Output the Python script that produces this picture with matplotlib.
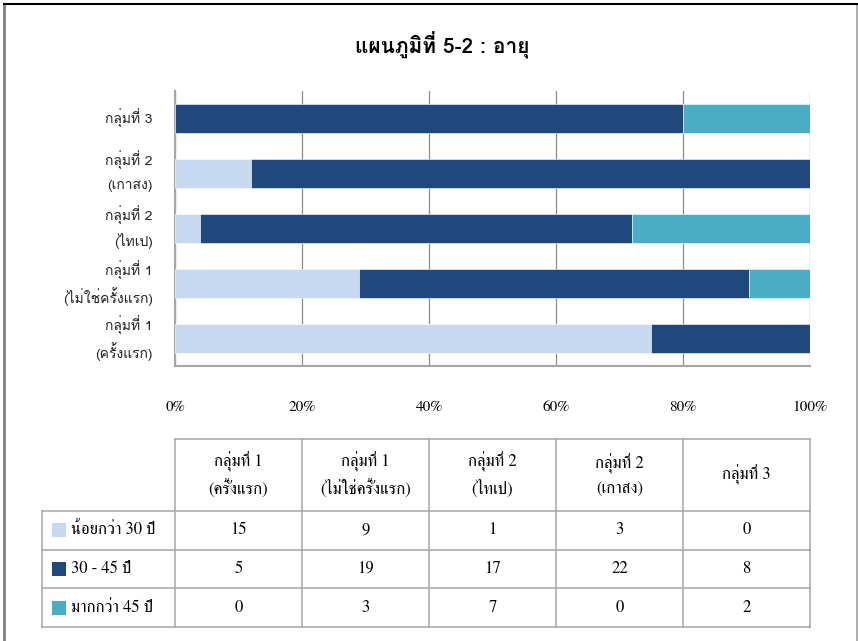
import matplotlib
matplotlib.use("Agg")
import matplotlib.pyplot as plt
from matplotlib import font_manager as fm
from matplotlib.patches import Rectangle
from matplotlib.lines import Line2D
import numpy as np

# ---------------- data ----------------
title = "แผนภูมิที่ 5-2 : อายุ"
groups = ["กลุ่มที่ 1\n(ครั้งแรก)", "กลุ่มที่ 1\n(ไม่ใช่ครั้งแรก)", "กลุ่มที่ 2\n(ไทเป)",
          "กลุ่มที่ 2\n(เกาสง)", "กลุ่มที่ 3"]
series_names = ["น้อยกว่า 30 ปี", "30 - 45 ปี", "มากกว่า 45 ปี"]
under30 = [15, 9, 1, 3, 0]
age30_45 = [5, 19, 17, 22, 8]
over45 = [0, 3, 7, 0, 2]
colors = ["#C6D9F1", "#1F497D", "#4BACC6"]
xticks = [0, 20, 40, 60, 80, 100]

# ---------------- fonts ----------------
def thai_fonts():
    out = []
    try:
        from fontTools.ttLib import TTFont
    except Exception:
        return out
    seen = set()
    for f in fm.fontManager.ttflist:
        if f.name in seen:
            continue
        try:
            tt = TTFont(f.fname, fontNumber=0, lazy=True)
            cmap = tt.getBestCmap()
            if cmap and 0x0E01 in cmap and 0x0E48 in cmap:
                out.append(f.name)
                seen.add(f.name)
        except Exception:
            pass
    return out

cands = thai_fonts()
thai_sans = "Loma" if "Loma" in cands else (cands[0] if cands else "DejaVu Sans")
thai_serif = "FreeSerif" if "FreeSerif" in cands else thai_sans
sans = [thai_sans, "DejaVu Sans"]
serif = [thai_serif, "Liberation Serif", "DejaVu Serif"]
plt.rcParams["font.family"] = sans

W, H = 858, 641
fig = plt.figure(figsize=(W / 100, H / 100), dpi=100)

def fx(px):
    return px / W

def fy(py):
    return 1 - py / H

# outer frame
fig.add_artist(Line2D([fx(4), fx(4)], [fy(4), 0], color="#808080", lw=2))
fig.add_artist(Line2D([fx(857), fx(857)], [fy(4), 0], color="#a0a0a0", lw=1.2))
fig.add_artist(Line2D([fx(4), fx(857)], [fy(4), fy(4)], color="#000000", lw=1.5))

# title
fig.text(fx(442), fy(45), title, ha="center", va="center", fontsize=15,
         fontweight="bold", family=sans)

# ---------------- bar chart ----------------
L, R, T, B = 175, 810, 91, 366
ax = fig.add_axes([fx(L), fy(B), fx(R) - fx(L), (B - T) / H])
data = np.array([under30, age30_45, over45], dtype=float)
pct = data / data.sum(axis=0) * 100
y = np.arange(len(groups))
left = np.zeros(len(groups))
for i in range(3):
    ax.barh(y, pct[i], left=left, height=0.51, color=colors[i],
            edgecolor="white", linewidth=0.4, zorder=3)
    left += pct[i]
ax.set_xlim(0, 100)
ax.set_ylim(-0.5, len(groups) - 0.5)
ax.set_xticks(xticks)
ax.set_xticklabels([f"{v}%" for v in xticks], family=serif, fontsize=11)
ax.set_yticks(y)
ax.set_yticklabels([])
ax.tick_params(axis="x", length=0, pad=25)
ax.tick_params(axis="y", length=0)
ax.grid(axis="x", color="#8c8c8c", lw=0.9, zorder=0)
for s in ["top", "right"]:
    ax.spines[s].set_visible(False)
for s in ["left", "bottom"]:
    ax.spines[s].set_color("#a6a6a6")
    ax.spines[s].set_linewidth(1.5)

# category labels, one text per line, centred on each bar
line_gap_pt = 18.5  # 25 px between lines
for yi, lab in zip(y, groups):
    parts = lab.split("\n")
    n = len(parts)
    for k, p in enumerate(parts):
        off = ((n - 1) / 2 - k) * line_gap_pt
        ax.annotate(p, xy=(0, yi), xycoords=("axes fraction", "data"),
                    xytext=(-16, off), textcoords="offset points",
                    ha="right", va="center", fontsize=10, family=sans,
                    color="#222222", annotation_clip=False)

# ---------------- data table ----------------
tx0, tleg, tx1 = 42, 175, 810
ty0, ty1, ty2 = 439, 511, 627
ncol = len(groups)
cw = (tx1 - tleg) / ncol
rh = (ty2 - ty1) / 3
lc = "#a6a6a6"

def hline(px0, px1, py):
    fig.add_artist(Line2D([fx(px0), fx(px1)], [fy(py), fy(py)], color=lc, lw=1.1))

def vline(px, py0, py1):
    fig.add_artist(Line2D([fx(px), fx(px)], [fy(py0), fy(py1)], color=lc, lw=1.1))

hline(tleg, tx1, ty0)
for k in range(4):
    hline(tx0, tx1, ty1 + k * rh)
vline(tx0, ty1, ty2)
for c in range(ncol + 1):
    vline(tleg + c * cw, ty0, ty2)

for c, h in enumerate(groups):
    fig.text(fx(tleg + (c + 0.5) * cw), fy((ty0 + ty1) / 2), h, ha="center",
             va="center", fontsize=12, family=serif, linespacing=1.55)
for r in range(3):
    cy = ty1 + (r + 0.5) * rh
    fig.add_artist(Rectangle((fx(52), fy(cy + 7)), 14 / W, 14 / H,
                             facecolor=colors[r], edgecolor="none"))
    fig.text(fx(71), fy(cy), series_names[r], ha="left", va="center",
             fontsize=12, family=serif)
    for c in range(ncol):
        fig.text(fx(tleg + (c + 0.5) * cw), fy(cy), str(int(data[r, c])),
                 ha="center", va="center", fontsize=12, family=serif)

fig.savefig("out.png", dpi=100)
